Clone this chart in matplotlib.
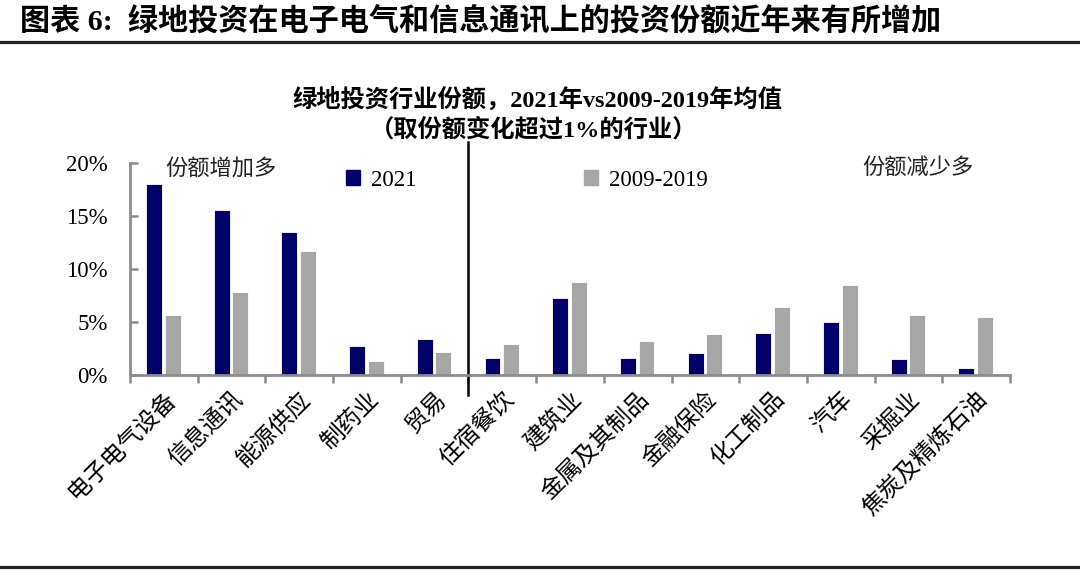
import matplotlib
matplotlib.use("Agg")
import matplotlib.pyplot as plt
from matplotlib.lines import Line2D
from matplotlib.patches import Patch
import numpy as np

categories = ["电子电气设备", "信息通讯", "能源供应", "制药业", "贸易", "住宿餐饮", "建筑业",
              "金属及其制品", "金融保险", "化工制品", "汽车", "采掘业", "焦炭及精炼石油"]
share_2021 = [18.0, 15.6, 13.5, 2.7, 3.4, 1.6, 7.3, 1.6, 2.1, 4.0, 5.0, 1.5, 0.7]
share_0919 = [5.7, 7.8, 11.7, 1.3, 2.2, 2.9, 8.8, 3.2, 3.9, 6.4, 8.5, 5.7, 5.5]
yticks = [0, 5, 10, 15, 20]
ytick_labels = ["0%", "5%", "10%", "15%", "20%"]

SERIF = ["Liberation Serif", "Noto Sans CJK SC", "DejaVu Sans"]
CJK = ["Noto Sans CJK SC", "DejaVu Sans"]
NAVY = "#000066"
GRAY = "#A6A6A6"
AXC = "#8C8C8C"

fig = plt.figure(figsize=(10.8, 5.83), dpi=100)
ax = fig.add_axes([130/1080, 208/583, 880/1080, 212/583])

x = np.arange(len(categories))
w = 0.235
ax.bar(x - 0.145, share_2021, width=w, color=NAVY, edgecolor="white", linewidth=0.6, label="2021")
ax.bar(x + 0.13, share_0919, width=w, color=GRAY, edgecolor="white", linewidth=0.6, label="2009-2019")

ax.set_xlim(-0.5, len(categories) - 0.5)
ax.set_ylim(0, 20)
ax.set_yticks(yticks)
ax.set_yticklabels(ytick_labels, family=SERIF, fontsize=16.5)
ax.set_xticks(np.arange(-0.5, len(categories), 1.0))
ax.set_xticklabels([])
ax.set_xticks(x, minor=True)
ax.set_xticklabels(categories, minor=True, family=CJK, fontsize=17, rotation=45,
                   ha="right", rotation_mode="anchor")
ax.tick_params(axis="x", which="minor", length=0, pad=9)
ax.tick_params(axis="x", which="major", direction="out", length=6, width=1.8, color=AXC)
ax.tick_params(axis="y", direction="in", length=6, width=1.8, color=AXC, pad=16)

for s in ["top", "right"]:
    ax.spines[s].set_visible(False)
for s in ["left", "bottom"]:
    ax.spines[s].set_color(AXC)
    ax.spines[s].set_linewidth(2)

# divider line
ax.plot([4.5, 4.5], [-0.094 * 20, 1.10 * 20], color="black", lw=1.8, clip_on=False)

# legend
handles = [Patch(color=NAVY), Patch(color=GRAY)]
ax.legend(handles, ["2021", "2009-2019"], ncol=2, frameon=False,
          prop={"family": SERIF, "size": 16.5}, handlelength=0.6, handleheight=0.6,
          handletextpad=0.5, columnspacing=7.3, loc="upper left",
          bbox_to_anchor=(0.222, 1.065))

ax.text(0.04, 0.978, "份额增加多", transform=ax.transAxes, family=CJK, fontsize=16,
        style="italic", va="center", ha="left", color="#222222")
ax.text(0.958, 0.978, "份额减少多", transform=ax.transAxes, family=CJK, fontsize=16,
        style="italic", va="center", ha="right", color="#222222")

# chart titles
fig.text(537/1080, 1 - 100/583, "绿地投资行业份额，2021年vs2009-2019年均值", family=SERIF,
         fontsize=17.5, weight="bold", ha="center", va="center")
fig.text(534/1080, 1 - 130/583, "（取份额变化超过1%的行业）", family=SERIF,
         fontsize=17.5, weight="bold", ha="center", va="center")

# header
fig.text(20/1080, 1 - 22/583, "图表 6:  绿地投资在电子电气和信息通讯上的投资份额近年来有所增加",
         family=SERIF, fontsize=21.7, weight="bold", ha="left", va="center")
fig.add_artist(Line2D([0, 1], [1 - 42/583, 1 - 42/583], color="#222222", lw=2.3))
fig.add_artist(Line2D([0, 1], [1 - 567/583, 1 - 567/583], color="#222222", lw=2.3))

fig.savefig("out.png", dpi=100)
